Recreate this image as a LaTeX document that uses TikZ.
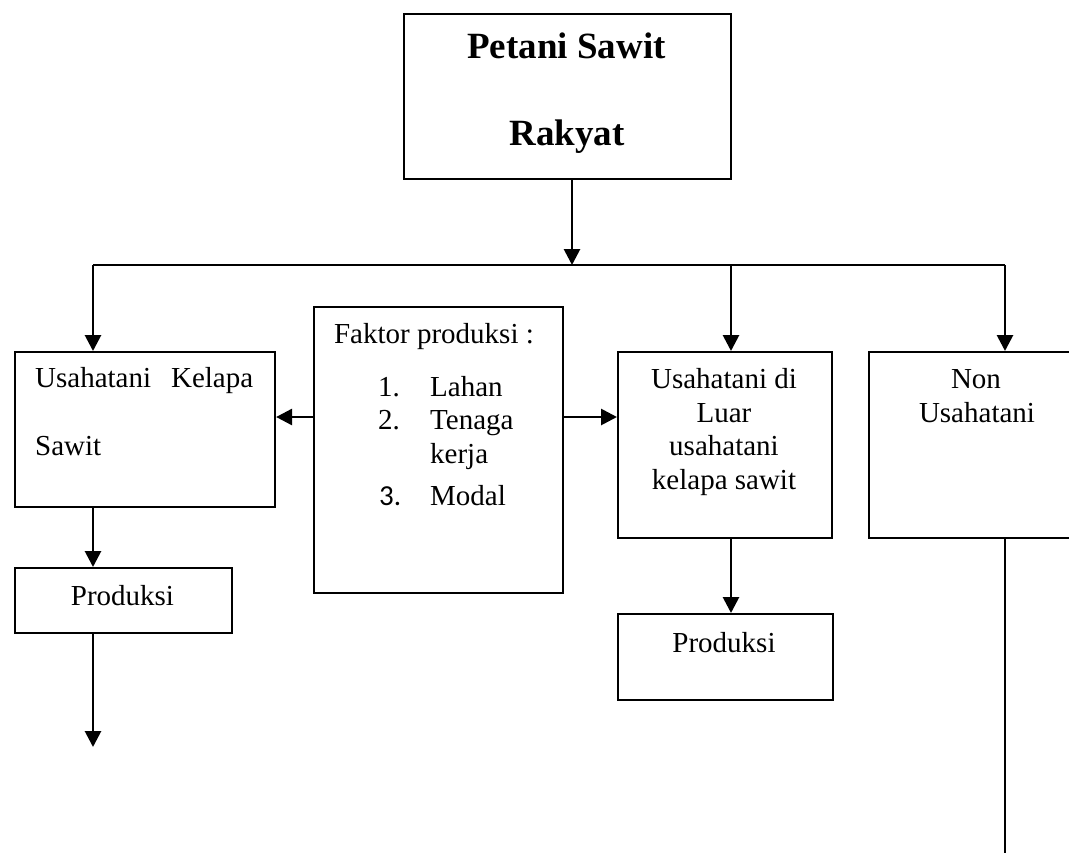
\documentclass[tikz,border=0pt]{standalone}
\usepackage{fontspec}
\setmainfont{Liberation Serif}
\newfontfamily\calibfont{Carlito}
\usetikzlibrary{arrows.meta}
\begin{document}
\begin{tikzpicture}[x=1pt,y=-1pt,
  box/.style={draw, line width=2.1pt, inner sep=0pt, anchor=north west},
  conn/.style={line width=2.8pt},
  arr/.style={line width=2.8pt, -{Triangle[length=16pt,width=16pt]}},
  txt/.style={font=\fontsize{29}{34}\selectfont, anchor=base, inner sep=0pt},
  ttl/.style={font=\bfseries\fontsize{37}{44}\selectfont, anchor=base, inner sep=0pt}]
\useasboundingbox (0,0) rectangle (1069,852);
% boxes
\node[box, minimum width=327pt, minimum height=165pt] (top) at (403,13) {};
\node[box, minimum width=260pt, minimum height=155pt] (uks) at (14,351) {};
\node[box, minimum width=249pt, minimum height=286pt] (fak) at (313,306) {};
\node[box, minimum width=214pt, minimum height=186pt] (luar) at (617,351) {};
\node[box, minimum width=217pt, minimum height=186pt] (non) at (868,351) {};
\node[box, minimum width=217pt, minimum height=65pt] (prodA) at (14,567) {};
\node[box, minimum width=215pt, minimum height=86pt] (prodB) at (617,613) {};
% texts
\node[ttl] (t1) at (566.5,58) {Petani Sawit};
\node[ttl] (t2) at (567,145) {Rakyat};
\node[txt, anchor=base west] (u1) at (35,387) {\makebox[218pt][s]{Usahatani Kelapa}};
\node[txt, anchor=base west] (u2) at (35,455) {Sawit};
\node[txt] (f0) at (434,343) {Faktor produksi :};
\node[txt, anchor=base west] (f1n) at (378,396) {1.};
\node[txt, anchor=base west] (f1) at (430,396) {Lahan};
\node[txt, anchor=base west] (f2n) at (378,429) {2.};
\node[txt, anchor=base west] (f2) at (430,429) {Tenaga};
\node[txt, anchor=base west] (f2b) at (430,463) {kerja};
\node[txt, anchor=base west, font=\calibfont\fontsize{29}{34}\selectfont] (f3n) at (379,505) {3.};
\node[txt, anchor=base west] (f3) at (430,505) {Modal};
\node[txt] (l1) at (724,388) {Usahatani di};
\node[txt] (l2) at (724,422) {Luar};
\node[txt] (l3) at (724,455) {usahatani};
\node[txt] (l4) at (724,489) {kelapa sawit};
\node[txt] (n1) at (976,388) {Non};
\node[txt] (n2) at (977,422) {Usahatani};
\node[txt] (p1) at (122.5,605) {Produksi};
\node[txt] (p2) at (724,652) {Produksi};
% connector points
\coordinate (j) at (572,265);
\coordinate (bl) at (93,265);
\coordinate (bm) at (731,265);
\coordinate (br) at (1005,265);
\coordinate (ay) at (440,417);
\coordinate (e1) at (93,747);
\coordinate (e2) at (1005,860);
% connectors
\draw[arr] (top.south -| j) -- (j);
\draw[conn] (bl) -- (br);
\draw[arr] (bl) -- (bl |- uks.north);
\draw[arr] (bm) -- (bm |- luar.north);
\draw[arr] (br) -- (br |- non.north);
\draw[arr] (fak.west |- ay) -- (uks.east |- ay);
\draw[arr] (fak.east |- ay) -- (luar.west |- ay);
\draw[arr] (bl |- uks.south) -- (bl |- prodA.north);
\draw[arr] (bl |- prodA.south) -- (e1);
\draw[arr] (bm |- luar.south) -- (bm |- prodB.north);
\draw[conn] (br |- non.south) -- (e2);
\end{tikzpicture}
\end{document}
